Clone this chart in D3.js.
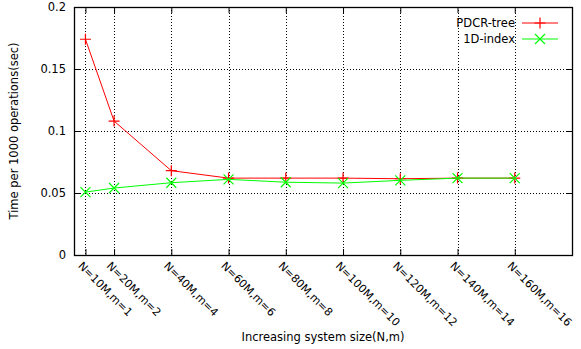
<!DOCTYPE html>
<html>
<head>
<meta charset="utf-8">
<script src="https://cdn.jsdelivr.net/npm/d3@7"></script>
<style>
  body { margin: 0; background: #fff; }
  text { font-family: "DejaVu Sans", sans-serif; font-size: 11.5px; fill: #000; }
</style>
</head>
<body>
<svg id="chart"></svg>
<script>
const width = 581;
const height = 349;
const margin = {left: 74, right: 9, top: 7, bottom: 94};

// data
const sizes = [10, 20, 40, 60, 80, 100, 120, 140, 160];
const tickLabels = ['N=10M,m=1', 'N=20M,m=2', 'N=40M,m=4', 'N=60M,m=6', 'N=80M,m=8',
                    'N=100M,m=10', 'N=120M,m=12', 'N=140M,m=14', 'N=160M,m=16'];
const pdcrTree = [0.174, 0.108, 0.068, 0.062, 0.062, 0.062, 0.0615, 0.062, 0.062];
const oneDIndex = [0.0507, 0.054, 0.0583, 0.061, 0.0587, 0.058, 0.0602, 0.062, 0.062];
const yTicks = [0, 0.05, 0.1, 0.15, 0.2];

const svg = d3.select('#chart')
            .attr('width', width)
            .attr('height', height);

const x = d3.scaleLinear().domain([6, 180]).range([margin.left, width - margin.right]);
const y = d3.scaleLinear().domain([0, 0.2]).range([height - margin.bottom, margin.top]);

const plotW = width - margin.right - margin.left;
const plotH = height - margin.bottom - margin.top;

// grid
const grid = svg.append('g')
            .attr('stroke', '#000')
            .attr('stroke-width', 1)
            .attr('stroke-dasharray', '1,2');

grid.selectAll('.vgrid').data(sizes).enter().append('line')
    .attr('x1', d => Math.round(x(d)) + 0.5)
    .attr('x2', d => Math.round(x(d)) + 0.5)
    .attr('y1', margin.top)
    .attr('y2', height - margin.bottom);

grid.selectAll('.hgrid').data(yTicks.slice(1, -1)).enter().append('line')
    .attr('y1', d => Math.round(y(d)) + 0.5)
    .attr('y2', d => Math.round(y(d)) + 0.5)
    .attr('x1', margin.left)
    .attr('x2', width - margin.right);

// axes
const xAxis = svg.append('g')
    .attr('transform', `translate(0, ${height - margin.bottom})`)
    .call(d3.axisBottom(x).tickValues(sizes).tickSize(-6)
        .tickFormat((d, i) => tickLabels[i]));
xAxis.selectAll('text')
    .attr('text-anchor', 'start')
    .attr('x', 0)
    .attr('y', 0)
    .attr('dy', 0)
    .attr('transform', 'translate(-8.5, 11.5) rotate(45)')
    .style('font-size', '11px');

svg.append('g')
    .attr('transform', `translate(0, ${margin.top})`)
    .call(d3.axisTop(x).tickValues(sizes).tickSize(-6).tickFormat(''));

const yAxis = svg.append('g')
    .attr('transform', `translate(${margin.left}, 0)`)
    .call(d3.axisLeft(y).tickValues(yTicks).tickSize(-6).tickPadding(8).tickFormat(d3.format('')));

svg.append('g')
    .attr('transform', `translate(${width - margin.right}, 0)`)
    .call(d3.axisRight(y).tickValues(yTicks).tickSize(-6).tickFormat(''));

svg.selectAll('.domain').remove();
svg.selectAll('.tick text').style('font-family', '"DejaVu Sans", sans-serif');

svg.append('rect')
    .attr('x', margin.left + 0.5)
    .attr('y', margin.top + 0.5)
    .attr('width', plotW)
    .attr('height', plotH)
    .attr('fill', 'none')
    .attr('stroke', '#000')
    .attr('stroke-width', 1.3);

// series
const series = [
    {name: 'PDCR-tree', values: pdcrTree, color: '#ff0000', marker: 'plus'},
    {name: '1D-index', values: oneDIndex, color: '#00ff00', marker: 'cross'}
];

const line = d3.line()
    .x((d, i) => x(sizes[i]))
    .y(d => y(d));

function drawMarker(g, type, cx, cy, color) {
    if (type === 'plus') {
        const s = 5.5;
        g.append('path')
            .attr('d', `M${cx - s},${cy}H${cx + s}M${cx},${cy - s}V${cy + s}`)
            .attr('stroke', color).attr('stroke-width', 1.2).attr('fill', 'none');
    } else {
        const t = 5;
        g.append('path')
            .attr('d', `M${cx - t},${cy - t}L${cx + t},${cy + t}M${cx - t},${cy + t}L${cx + t},${cy - t}`)
            .attr('stroke', color).attr('stroke-width', 1.2).attr('fill', 'none');
    }
}

series.forEach(s => {
    svg.append('path')
        .datum(s.values)
        .attr('fill', 'none')
        .attr('stroke', s.color)
        .attr('stroke-width', 1)
        .attr('d', line);
    const g = svg.append('g');
    s.values.forEach((v, i) => drawMarker(g, s.marker, x(sizes[i]), y(v), s.color));
});

// legend
series.forEach((s, i) => {
    const ly = 23 + i * 16;
    svg.append('text')
        .attr('x', 515)
        .attr('y', ly)
        .attr('dy', '0.35em')
        .attr('text-anchor', 'end')
        .text(s.name);
    svg.append('line')
        .attr('x1', 522).attr('x2', 558)
        .attr('y1', ly).attr('y2', ly)
        .attr('stroke', s.color).attr('stroke-width', 1);
    drawMarker(svg, s.marker, 540, ly, s.color);
});

// axis titles
svg.append('text')
    .attr('x', 323)
    .attr('y', 337)
    .attr('dy', '0.35em')
    .attr('text-anchor', 'middle')
    .text('Increasing system size(N,m)');

svg.append('text')
    .attr('transform', 'translate(14, 131) rotate(-90)')
    .attr('dy', '0.35em')
    .attr('text-anchor', 'middle')
    .text('Time per 1000 operations(sec)');
</script>
</body>
</html>
